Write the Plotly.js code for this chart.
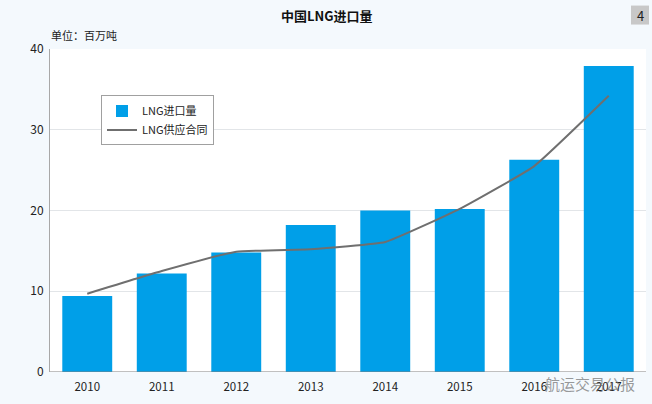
<!DOCTYPE html>
<html><head><meta charset="utf-8">
<script src="https://cdn.plot.ly/plotly-3.0.1.min.js"></script>
<style>html,body{margin:0;padding:0;background:#f4f9fd}</style></head>
<body><div id="c" style="width:652px;height:404px"></div>
<script>
const years = ['2010','2011','2012','2013','2014','2015','2016','2017'];
const imports = [9.4,12.2,14.8,18.2,20.0,20.2,26.3,37.9];
const contracts = [9.7,12.5,14.9,15.2,16.1,20.2,25.5,34.2];
const F = '"Noto Sans CJK SC","Noto Sans",sans-serif';
const W = 652, H = 404;
const px = v => v / W, py = v => 1 - v / H;
const traces = [
 {type:'bar',x:years,y:imports,name:'LNG进口量',width:0.67,marker:{color:'#009fe8'},hoverinfo:'skip'},
 {type:'scatter',mode:'lines',x:years,y:contracts,name:'LNG供应合同',line:{color:'#6f6f6f',width:2,shape:'spline',smoothing:0.35},hoverinfo:'skip'}
];
const layout = {
 width:W,height:H,autosize:false,
 margin:{l:50,r:6,t:48.5,b:32,pad:0},
 paper_bgcolor:'#f4f9fd',plot_bgcolor:'#ffffff',
 font:{family:F,size:11.5,color:'#222'},
 showlegend:true,
 legend:{x:px(101-50)/(596/W),xanchor:'left',y:1-(95-48.5)/323.5,yanchor:'top',
  bgcolor:'#ffffff',bordercolor:'#a0a0a0',borderwidth:1,traceorder:'normal',
  font:{family:F,size:11,color:'#222'},itemwidth:30,tracegroupgap:0},
 xaxis:{type:'category',range:[-0.5,7.5],showgrid:false,zeroline:false,showline:false,ticks:'',
  tickfont:{family:F,size:11.5,color:'#222'},ticklabelstandoff:6},
 yaxis:{range:[0,40],tickvals:[0,10,20,30,40],showgrid:true,gridcolor:'#e2e5e8',gridwidth:1,zeroline:false,
  showline:true,linecolor:'#a8a8a8',linewidth:1,ticks:'',tickfont:{family:F,size:12,color:'#222'},ticklabelstandoff:3},
 shapes:[
  {type:'line',xref:'paper',yref:'y',x0:0,x1:1,y0:0,y1:0,line:{color:'#808080',width:1}},
  {type:'rect',xref:'paper',yref:'paper',x0:(631-50)/596,x1:(649-50)/596,y0:(372-24)/323.5,y1:(372-5)/323.5,fillcolor:'#c8c8c8',line:{width:0}}
 ],
 annotations:[
  {text:'<b>中国LNG进口量</b>',xref:'paper',yref:'paper',x:(327-50)/596,y:(372-15)/323.5,showarrow:false,xanchor:'center',yanchor:'middle',font:{family:F,size:13,color:'#111'}},
  {text:'单位：百万吨',xref:'paper',yref:'paper',x:(49-50)/596,y:(372-34)/323.5,showarrow:false,xanchor:'left',yanchor:'middle',font:{family:F,size:11,color:'#222'}},
  {text:'4',xref:'paper',yref:'paper',x:(640-50)/596,y:(372-15)/323.5,showarrow:false,xanchor:'center',yanchor:'middle',font:{family:F,size:13,color:'#222'}},
  {text:'航运交易公报',xref:'paper',yref:'paper',x:(543-50)/596,y:(372-384)/323.5,showarrow:false,xanchor:'left',yanchor:'middle',font:{family:F,size:15,color:'rgba(110,110,110,0.7)'}}
 ]
};
Plotly.newPlot('c',traces,layout,{displayModeBar:false,staticPlot:true});
</script></body></html>
